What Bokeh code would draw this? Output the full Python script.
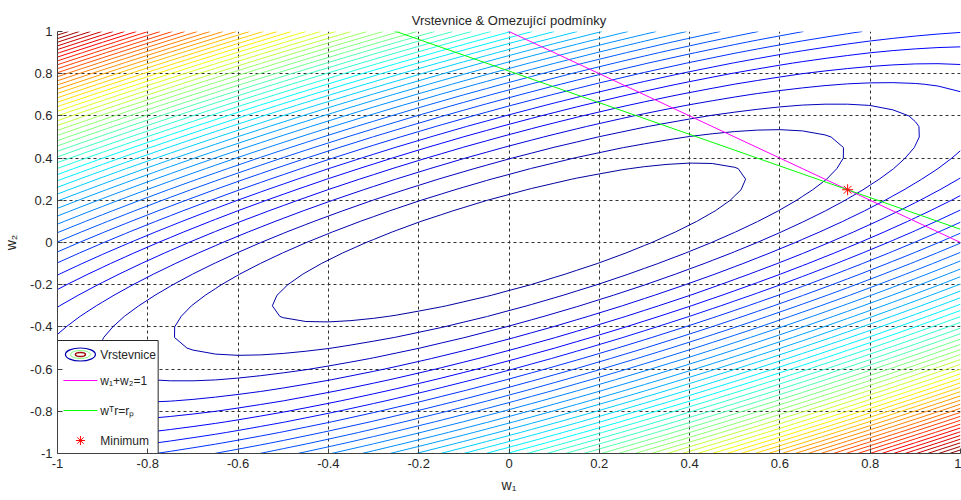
import numpy as np
from bokeh.plotting import figure
from bokeh.models import FixedTicker, Range1d, Label
from bokeh.embed import file_html
from bokeh.resources import INLINE

# ---------------- data ----------------
cov_w1w1 = 0.52          # variance weight of w1^2
cov_w1w2 = -0.575        # covariance term
cov_w2w2 = 1.0           # variance weight of w2^2
asset_returns = [0.12, 0.16]   # r
target_return = 0.13           # r_p
budget_total = 1.0             # w1 + w2 = 1
contour_count = 50
grid_w1 = np.linspace(-1.0, 1.0, 41)
grid_w2 = np.linspace(-1.0, 1.0, 41)
tick_values = [-1, -0.8, -0.6, -0.4, -0.2, 0, 0.2, 0.4, 0.6, 0.8, 1]
tick_labels = ["-1", "-0.8", "-0.6", "-0.4", "-0.2", "0", "0.2", "0.4", "0.6", "0.8", "1"]
title_text = "Vrstevnice & Omezující podmínky"
x_label = "w₁"
y_label = "w₂"
legend_labels = ["Vrstevnice", "w₁+w₂=1", "wᵀr=rₚ", "Minimum"]

# ---------------- styles ----------------
FONT = "Liberation Sans"
TXT = "#262626"
MAGENTA = "#ff00ff"
GREEN = "#00ff00"
RED = "#ff0000"


def jet(m=64):
    n = int(np.ceil(m / 4))
    u = np.concatenate([np.arange(1, n + 1) / n, np.ones(n - 1), np.arange(n, 0, -1) / n])
    g = int(np.ceil(n / 2)) - (1 if m % 4 == 1 else 0) + np.arange(1, len(u) + 1)
    r = g + n
    b = g - n
    J = np.zeros((m, 3))
    for col, idx in ((0, r), (1, g), (2, b)):
        mask = (idx >= 1) & (idx <= m)
        J[idx[mask] - 1, col] = u[mask]
    return J


def to_hex(rgb):
    return "#%02x%02x%02x" % tuple(int(round(c * 255)) for c in rgb)


JET = jet(64)

X, Y = np.meshgrid(grid_w1, grid_w2)
Z = cov_w1w1 * X ** 2 + 2 * cov_w1w2 * X * Y + cov_w2w2 * Y ** 2
zmin, zmax = Z.min(), Z.max()
levels = np.linspace(zmin, zmax, contour_count + 2)[1:-1]
level_colors = [to_hex(JET[min(int((lv - zmin) / (zmax - zmin) * 64), 63)]) for lv in levels]

# ---------------- figure ----------------
FR_L, FR_R, FR_T, FR_B = 54, 960, 31, 453
W, H = 961, 500

p = figure(width=W, height=H, x_range=Range1d(-1, 1), y_range=Range1d(-1, 1),
           output_backend="svg", toolbar_location=None,
           min_border_left=FR_L, min_border_right=W - FR_R,
           min_border_top=FR_T, min_border_bottom=H - FR_B,
           title=title_text)
p.outline_line_color = None
p.background_fill_color = "white"
p.border_fill_color = "white"

p.title.align = "center"
p.title.text_font = FONT
p.title.text_font_size = "13px"
p.title.text_font_style = "normal"
p.title.text_color = TXT
p.title.offset = 0
p.title.standoff = 8

for ax in (p.xaxis[0], p.yaxis[0]):
    ax.ticker = FixedTicker(ticks=tick_values)
    ax.major_label_overrides = {v: s for v, s in zip(tick_values, tick_labels)}
    ax.major_label_text_font = FONT
    ax.major_label_text_font_size = "13px"
    ax.major_label_text_color = TXT
    ax.axis_line_color = "#404040"
    ax.major_tick_line_color = "#404040"
    ax.major_tick_in = 5
    ax.major_tick_out = 0
    ax.minor_tick_line_color = None
    ax.axis_label_text_font = FONT
    ax.axis_label_text_font_size = "14px"
    ax.axis_label_text_font_style = "normal"
    ax.axis_label_text_color = TXT

p.xaxis.axis_label = x_label
p.yaxis.axis_label = y_label
p.xaxis.major_label_standoff = 5
p.yaxis.major_label_standoff = 5
p.xaxis.axis_label_standoff = 6
p.yaxis.axis_label_standoff = 8

p.grid.grid_line_color = "#303030"
p.grid.grid_line_dash = "3 3"
p.grid.grid_line_width = 1

# contours
p.contour(X, Y, Z, levels, line_color=level_colors, line_width=1)

# constraint lines
line_w1 = grid_w1[[0, -1]]
p.line(line_w1, budget_total - line_w1, line_color=MAGENTA, line_width=1)
p.line(line_w1, (target_return - asset_returns[0] * line_w1) / asset_returns[1],
       line_color=GREEN, line_width=1)

# minimum (intersection of constraints)
A = np.array([[1.0, 1.0], asset_returns])
bvec = np.array([budget_total, target_return])
w_min = np.linalg.solve(A, bvec)
p.scatter([w_min[0]], [w_min[1]], marker="asterisk", size=11, line_color=RED, line_width=1)

# ---------------- legend (manual) ----------------
def dx(px):
    return -1 + (px - FR_L) / (FR_R - FR_L) * 2


def dy(py):
    return 1 - (py - FR_T) / (FR_B - FR_T) * 2


p.quad(left=[dx(54)], right=[dx(155)], top=[dy(340)], bottom=[dy(453)],
       fill_color="white", line_color="#262626", line_width=1)
rows = [354, 380, 410, 440]
icon_x = 77
p.ellipse(x=[dx(icon_x)], y=[dy(rows[0])], width=[30], height=[13],
          width_units="screen", height_units="screen",
          fill_color=None, line_color=to_hex(JET[2]), line_width=1.2)
p.ellipse(x=[dx(icon_x)], y=[dy(rows[0])], width=[20], height=[8],
          width_units="screen", height_units="screen",
          fill_color=None, line_color="#80ff80", line_width=1)
p.ellipse(x=[dx(icon_x)], y=[dy(rows[0])], width=[10], height=[4],
          width_units="screen", height_units="screen",
          fill_color=None, line_color="#a01010", line_width=1.5)
p.line([dx(60), dx(94)], [dy(rows[1])] * 2, line_color=MAGENTA, line_width=1)
p.line([dx(60), dx(94)], [dy(rows[2])] * 2, line_color=GREEN, line_width=1)
p.scatter([dx(icon_x)], [dy(rows[3])], marker="asterisk", size=9, line_color=RED, line_width=1)

for lab, ry in zip(legend_labels, rows):
    p.add_layout(Label(x=dx(97), y=dy(ry), text=lab, text_font=FONT,
                       text_font_size="12px", text_color=TXT,
                       text_baseline="middle", text_align="left"))

open("out.html", "w").write(file_html(p, INLINE))
